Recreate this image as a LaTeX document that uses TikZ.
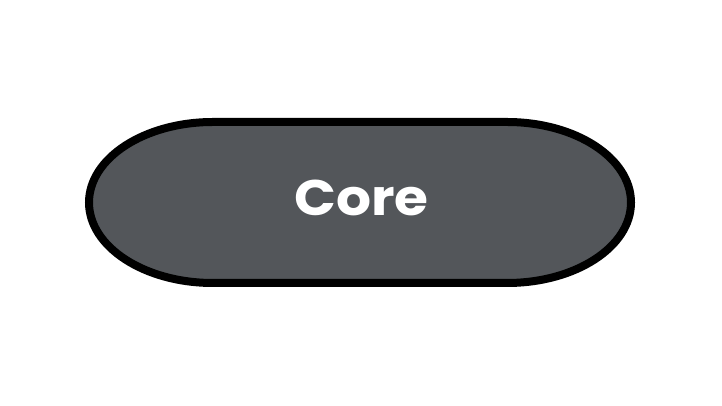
\documentclass[tikz,border=0pt]{standalone}
\usepackage{fontspec}
\setmainfont{Poppins}
\definecolor{coregray}{HTML}{53565A}
\tikzset{
  pill/.style={draw=black, line width=8pt, fill=coregray},
  label/.style={text=white, font=\bfseries\fontsize{50}{58}\selectfont, inner sep=0pt, xscale=1.1}
}
\begin{document}
\begin{tikzpicture}[x=1pt,y=1pt]
\useasboundingbox (0,0) rectangle (722,406);
\fill[white] (0,0) rectangle (722,406);
\draw[pill] (213,284) -- (507,284)
  arc[start angle=90, end angle=-90, x radius=124, y radius=80.5]
  -- (213,123)
  arc[start angle=270, end angle=90, x radius=124, y radius=80.5] -- cycle;
\node[label] (core) at (361.5,208) {Core};
\end{tikzpicture}
\end{document}
